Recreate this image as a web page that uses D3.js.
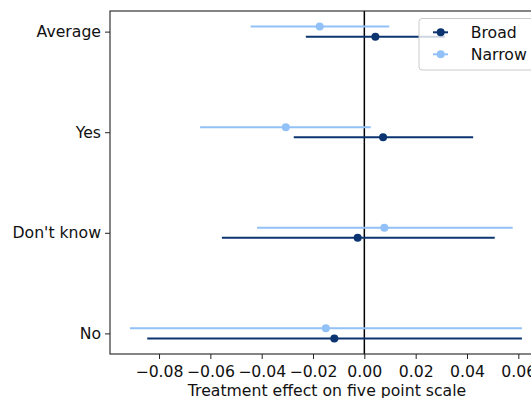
<!DOCTYPE html>
<html>
<head>
<meta charset="utf-8">
<script src="https://cdn.jsdelivr.net/npm/d3@7"></script>
<style>
  html, body { margin: 0; padding: 0; background: #fff; overflow: hidden; }
  svg { display: block; font-family: "DejaVu Sans", sans-serif; }
</style>
</head>
<body>
<svg id="chart" width="531" height="398"></svg>
<script>
// Answer categories, top to bottom
const categories = ["Average", "Yes", "Don't know", "No"];

// Point estimates and confidence bounds per category
const broadEst   = [0.0043, 0.0073, -0.0026, -0.0117];
const broadLow   = [-0.0228, -0.0275, -0.0555, -0.0846];
const broadHigh  = [0.0314, 0.0424, 0.0508, 0.0614];

const narrowEst  = [-0.0174, -0.0306, 0.0078, -0.0150];
const narrowLow  = [-0.0443, -0.0640, -0.0418, -0.0913];
const narrowHigh = [0.0097, 0.0025, 0.0578, 0.0614];

const xTicks = [-0.08, -0.06, -0.04, -0.02, 0.00, 0.02, 0.04, 0.06];

const seriesNames = ["Broad", "Narrow"];
const colors = { Broad: "#0b3470", Narrow: "#92c1f7" };

const series = [
  { name: "Broad",  offset: -0.05, est: broadEst,  low: broadLow,  high: broadHigh },
  { name: "Narrow", offset:  0.05, est: narrowEst, low: narrowLow, high: narrowHigh }
];

const svg = d3.select("#chart");
const plotL = 110, plotR = 544, plotT = 11, plotB = 354;
const fontSize = 15.7;

const x = d3.scaleLinear().domain([-0.0991, 0.0700]).range([plotL, plotR]);
// categories sit at integer positions, "No" at the bottom
const catPos = c => categories.length - 1 - categories.indexOf(c);
const y = d3.scaleLinear().domain([-0.205, 3.205]).range([plotB, plotT]);

// zero reference line
svg.append("line")
  .attr("x1", x(0)).attr("x2", x(0))
  .attr("y1", plotT).attr("y2", plotB)
  .attr("stroke", "#000").attr("stroke-width", 1.5);

// error bars and point estimates
series.forEach(s => {
  const g = svg.append("g");
  categories.forEach((c, i) => {
    const yy = y(catPos(c) + s.offset);
    g.append("line")
      .attr("x1", x(s.low[i])).attr("x2", x(s.high[i]))
      .attr("y1", yy).attr("y2", yy)
      .attr("stroke", colors[s.name]).attr("stroke-width", 2);
    g.append("circle")
      .attr("cx", x(s.est[i])).attr("cy", yy).attr("r", 4)
      .attr("fill", colors[s.name]);
  });
});

// axes
const xAxis = d3.axisBottom(x).tickValues(xTicks)
  .tickFormat(d => d3.format(".2f")(d).replace("-", "\u2212"))
  .tickSize(5).tickPadding(7);
const gx = svg.append("g").attr("transform", `translate(0,${plotB})`).call(xAxis);
gx.select(".domain").remove();
gx.selectAll("text").attr("font-size", fontSize).attr("font-family", "DejaVu Sans").attr("fill", "#111");
gx.selectAll("line").attr("stroke", "#222").attr("stroke-width", 1);

const yAxis = d3.axisLeft(y).tickValues(categories.map(catPos))
  .tickFormat(v => categories[categories.length - 1 - v])
  .tickSize(5).tickPadding(4);
const gy = svg.append("g").attr("transform", `translate(${plotL},0)`).call(yAxis);
gy.select(".domain").remove();
gy.selectAll("text").attr("font-size", fontSize).attr("font-family", "DejaVu Sans").attr("fill", "#111");
gy.selectAll("line").attr("stroke", "#222").attr("stroke-width", 1);

// frame
svg.append("rect")
  .attr("x", plotL).attr("y", plotT)
  .attr("width", plotR - plotL).attr("height", plotB - plotT)
  .attr("fill", "none").attr("stroke", "#222").attr("stroke-width", 1.1);

// axis title
svg.append("text")
  .attr("x", (plotL + plotR) / 2).attr("y", 390)
  .attr("text-anchor", "middle").attr("dominant-baseline", "central")
  .attr("font-size", fontSize).attr("fill", "#111")
  .text("Treatment effect on five point scale");

// legend
const lg = svg.append("g");
lg.append("rect")
  .attr("x", 419).attr("y", 18.5).attr("width", 140).attr("height", 51.5)
  .attr("rx", 3).attr("fill", "#fff").attr("fill-opacity", 0.8)
  .attr("stroke", "#ccc").attr("stroke-width", 1);
seriesNames.forEach((n, i) => {
  const yy = 32.3 + i * 22;
  lg.append("line").attr("x1", 433).attr("x2", 448).attr("y1", yy).attr("y2", yy)
    .attr("stroke", colors[n]).attr("stroke-width", 2);
  lg.append("circle").attr("cx", 440.7).attr("cy", yy).attr("r", 4).attr("fill", colors[n]);
  lg.append("text").attr("x", 470.7).attr("y", yy)
    .attr("dominant-baseline", "central").attr("font-size", fontSize).attr("fill", "#111")
    .text(n);
});
</script>
</body>
</html>
